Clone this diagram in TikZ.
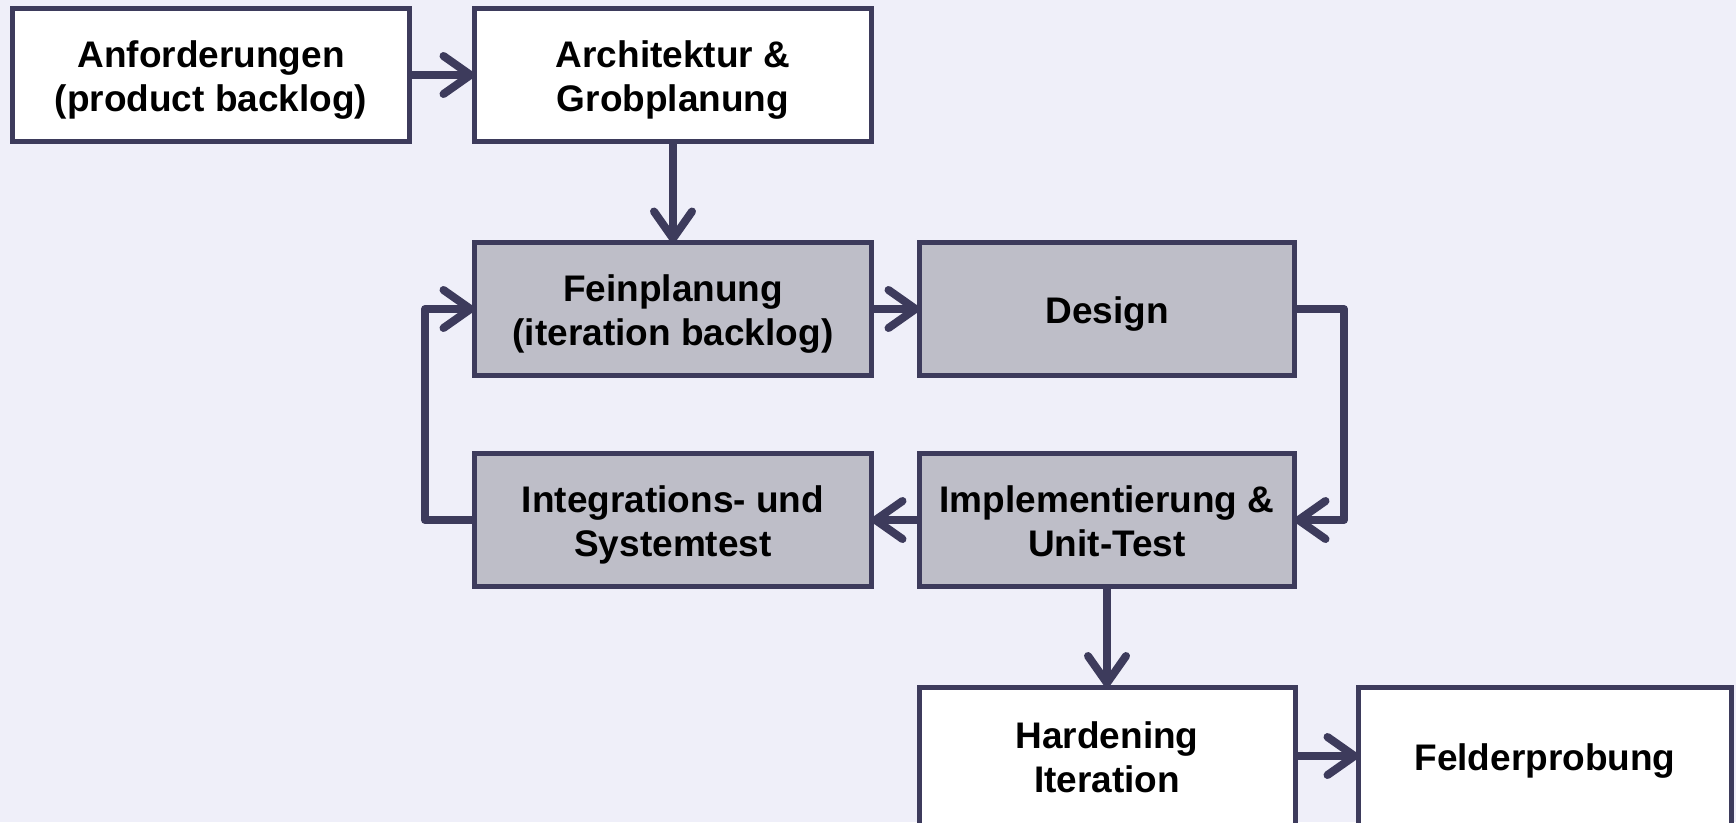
\documentclass[tikz,border=0pt]{standalone}
\usepackage{fontspec}
\setmainfont{Liberation Sans}
\usetikzlibrary{arrows.meta}
\definecolor{bgc}{HTML}{EFEFF9}
\definecolor{edgec}{HTML}{3D3B5C}
\definecolor{grayc}{HTML}{BEBEC8}
\newcommand{\boxtext}[1]{\raisebox{-5.5pt}[\height][\depth]{\begin{tabular}{@{}c@{}}#1\end{tabular}}}
\tikzset{
  box/.style={draw=edgec, line width=5pt, rectangle, minimum width=397pt, minimum height=133pt,
    inner sep=0pt, outer sep=0pt, align=center, font=\fontsize{37}{44}\selectfont\bfseries, text=black},
  wbox/.style={box, fill=white},
  gbox/.style={box, fill=grayc},
  conn/.style={draw=edgec, line width=8pt, line join=round,
    -{Straight Barb[length=27pt,width=38pt,round]}}
}
\begin{document}
\begin{tikzpicture}[x=1pt,y=-1pt]
\useasboundingbox (0,0) rectangle (1736,822);
\fill[bgc] (0,0) rectangle (1736,822);
\clip (0,0) rectangle (1736,822);
\node[wbox] (anf) at (211,75) {\boxtext{Anforderungen\\(product backlog)}};
\node[wbox] (arc) at (673,75) {\boxtext{Architektur \&\\Grobplanung}};
\node[gbox] (fein) at (673,309) {\boxtext{Feinplanung\\(iteration backlog)}};
\node[gbox, minimum width=375pt] (des) at (1107,309) {\boxtext{Design}};
\node[gbox] (int) at (673,520) {\boxtext{Integrations- und\\Systemtest}};
\node[gbox, minimum width=375pt] (imp) at (1107,520) {\boxtext{Implementierung \&\\Unit-Test}};
\node[wbox, minimum width=376pt, minimum height=138pt] (hard) at (1107,756) {\boxtext{Hardening\\Iteration}};
\node[wbox, minimum width=373pt, minimum height=138pt] (feld) at (1545,756) {\boxtext{Felderprobung}};
\coordinate (r1) at (1344,309);
\coordinate (r2) at (1344,520);
\coordinate (l1) at (425,520);
\coordinate (l2) at (425,309);
\draw[conn] (anf.east) -- (arc.west);
\draw[conn] (arc.south) -- (fein.north);
\draw[conn] (fein.east) -- (des.west);
\draw[conn] (des.east) -- (r1) -- (r2) -- (imp.east);
\draw[conn] (imp.west) -- (int.east);
\draw[conn] (int.west) -- (l1) -- (l2) -- (fein.west);
\draw[conn] (imp.south) -- (hard.north);
\draw[conn] (hard.east) -- (feld.west);
\end{tikzpicture}
\end{document}
